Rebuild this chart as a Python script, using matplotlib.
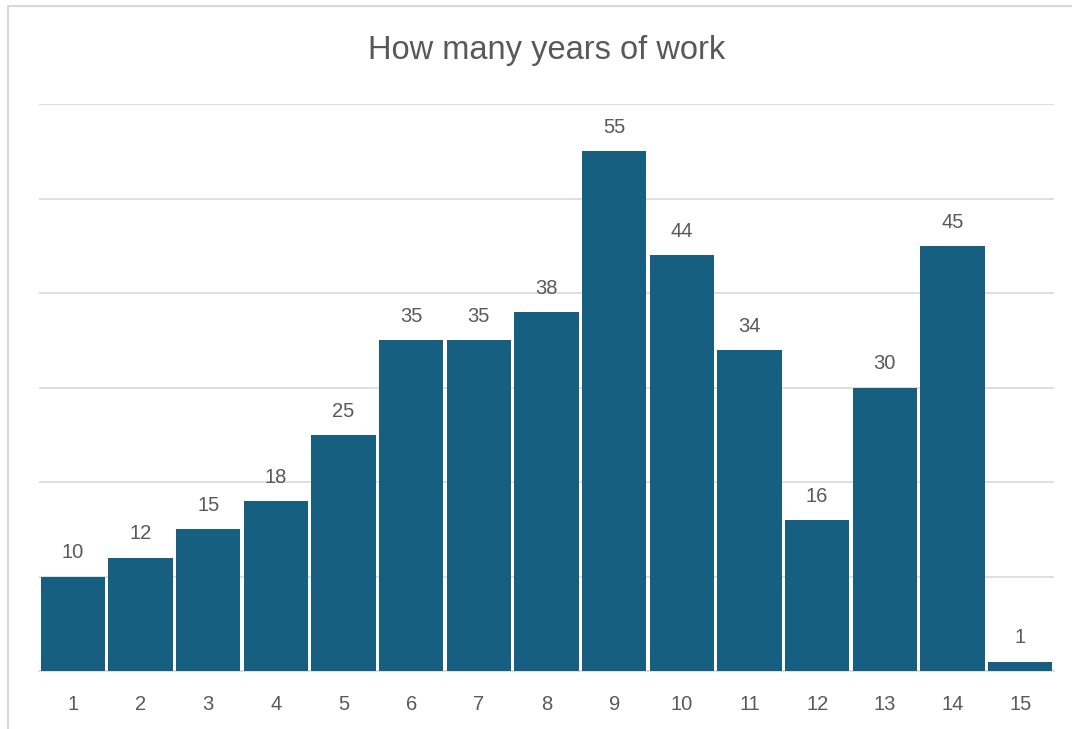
import matplotlib.pyplot as plt
from matplotlib.patches import Rectangle

categories = [str(i) for i in range(1, 16)]
counts = [10, 12, 15, 18, 25, 35, 35, 38, 55, 44, 34, 16, 30, 45, 1]

bar_color = "#175F80"
text_color = "#595959"
grid_color = "#D9D9D9"

plt.rcParams['font.family'] = ['Liberation Sans', 'DejaVu Sans']

fig = plt.figure(figsize=(10.72, 7.29), dpi=100)
# light outer chart frame (cropped on right and bottom)
fig.patches.append(Rectangle((8 / 1072, -0.1), 1.2, 1 - 6 / 729 + 0.1,
                             transform=fig.transFigure, fill=False,
                             edgecolor=grid_color, linewidth=1.5))

ax = fig.add_axes([39 / 1072, 58 / 729, 1015 / 1072, 567 / 729])
x = range(len(categories))
bars = ax.bar(x, counts, width=0.95, color=bar_color, zorder=3)

for b, v in zip(bars, counts):
    ax.text(b.get_x() + b.get_width() / 2, v + 1.5, str(v), ha='center',
            va='bottom', fontsize=14.5, color=text_color)

ax.set_ylim(0, 60)
ax.set_xlim(-0.5, len(categories) - 0.5)
ax.set_yticks(range(0, 61, 10))
ax.set_yticklabels([])
ax.tick_params(axis='y', length=0)
ax.set_xticks(list(x))
ax.set_xticklabels(categories, fontsize=14.5, color=text_color)
ax.tick_params(axis='x', length=0, pad=17)
ax.grid(axis='y', color=grid_color, linewidth=1.2, zorder=0)
for s in ['top', 'right', 'left']:
    ax.spines[s].set_visible(False)
ax.spines['bottom'].set_color(grid_color)
ax.spines['bottom'].set_linewidth(1.2)

fig.text(547 / 1072, 1 - 50 / 729, "How many years of work", ha='center',
         va='center', fontsize=23.5, color=text_color)

fig.savefig("out.png", dpi=100)
